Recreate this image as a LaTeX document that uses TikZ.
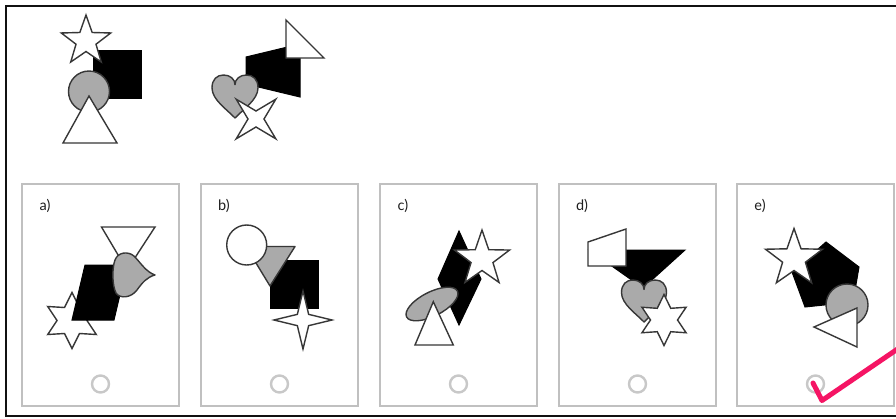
\documentclass[tikz,border=0pt]{standalone}
\usepackage{fontspec}
\setmainfont{Lato}
\definecolor{shapegray}{RGB}{170,170,170}
\definecolor{edgegray}{RGB}{55,55,55}
\definecolor{boxgray}{RGB}{192,192,192}
\definecolor{radiogray}{RGB}{200,200,200}
\definecolor{pinkc}{RGB}{245,20,100}
\definecolor{labelcol}{RGB}{30,30,30}
\newcommand\drawstar[7]{%
  \pgfmathtruncatemacro\starlast{2*#4-1}%
  \draw[#1,shift={(#2,#3)}] (#7:#5) \foreach \k in {1,...,\starlast} { -- ({#7+\k*180/#4}:{#6+(#5-#6)*(1-mod(\k,2))}) } -- cycle;}
\newcommand\drawheart[5]{%
  \draw[#1,shift={(#2,#3)},x=#4pt,y=-#5pt] (0,1) .. controls (-0.35,0.6) and (-1,0.15) .. (-1,-0.4) .. controls (-1,-0.8) and (-0.78,-1) .. (-0.5,-1) .. controls (-0.2,-1) and (0,-0.8) .. (0,-0.55) .. controls (0,-0.8) and (0.2,-1) .. (0.5,-1) .. controls (0.78,-1) and (1,-0.8) .. (1,-0.4) .. controls (1,0.15) and (0.35,0.6) .. (0,1) -- cycle;}
\begin{document}
\begin{tikzpicture}[x=1pt,y=-1pt,
  blk/.style={fill=black,draw=black,line width=1pt,line join=miter},
  gry/.style={fill=shapegray,draw=edgegray,line width=1.4pt,line join=round},
  wht/.style={fill=white,draw=edgegray,line width=1.4pt,line join=miter},
  ansbox/.style={draw=boxgray,line width=1.2pt},
  radio/.style={draw=radiogray,line width=2.4pt},
  lbl/.style={font=\fontsize{14.5}{16}\selectfont,text=labelcol,inner sep=0pt}]
\useasboundingbox (0,0) rectangle (896,418);
\clip (0,0) rectangle (896,418);
\fill[white] (0,0) rectangle (896,418);
% outer frame
\draw[line width=2pt,draw={rgb,255:red,17;green,17;blue,17}] (910,6) -- (6,6) -- (6,415.5) -- (910,415.5);

% ---------- top figure 1 ----------
\draw[blk] (93,50) rectangle (141,98);
\drawstar{wht}{86}{41}{5}{26}{10.5}{-90}
\draw[gry] (89,91.5) circle[radius=20.5pt];
\draw[wht] (89,96) -- (117,143) -- (63,143) -- cycle;

% ---------- top figure 2 ----------
\draw[blk] (246,57) -- (300,44) -- (300,97) -- (246,84) -- cycle;
\draw[wht] (286,20) -- (324,58) -- (286,58) -- cycle;
\drawheart{gry}{235}{96.5}{23}{21.5}
\drawstar{wht}{256}{119}{4}{28}{8}{45}

% ---------- answer boxes ----------
\foreach \bx/\nm/\t in {22/a/a), 201/b/b), 380/c/c), 559/d/d), 737/e/e)}{
  \draw[ansbox] (\bx,184) rectangle ++(157,222);
  \node[lbl] (lab\nm) at ({\bx+23},206) {\t};
  \draw[radio] ({\bx+78.5},384) circle[radius=8.5pt];
}

% ---------- option a ----------
\drawstar{wht}{72}{320.5}{6}{28}{15}{-90}
\draw[blk] (72,320) -- (114,320) -- (127,265) -- (85,265) -- cycle;
\draw[wht] (101.5,227) -- (155,227) -- (127,270) -- cycle;
\draw[gry] (155,275) .. controls (146,272) and (140,262) .. (134,256) .. controls (128,251) and (118,252) .. (115,260) .. controls (112,268) and (112,285) .. (116,293) .. controls (120,299) and (131,298) .. (137,290) .. controls (142,283) and (147,277) .. (155,275) -- cycle;

% ---------- option b ----------
\draw[blk] (270,260) rectangle (318,308);
\draw[gry] (246,246.5) -- (295,246.5) -- (270,286) -- cycle;
\draw[wht] (246.7,245) circle[radius=20pt];
\drawstar{wht}{303}{320}{4}{29}{8}{-90}

% ---------- option c ----------
\draw[blk] (459,231) -- (481,279) -- (459,325) -- (438,279) -- cycle;
\drawstar{wht}{482}{259}{5}{29}{11.5}{-90}
\draw[gry,rotate around={27:(432,304)}] (432,304) ellipse[x radius=28.5pt,y radius=12pt];
\draw[wht] (433.3,301.7) -- (453.3,345) -- (415,345) -- cycle;

% ---------- option d ----------
\draw[blk] (589,250) -- (685,250) -- (643,288) -- cycle;
\draw[wht] (588,242) -- (626,229) -- (626,266) -- (588,266) -- cycle;
\drawheart{gry}{644}{301}{22.5}{21}
\drawstar{wht}{664}{320}{6}{25.5}{13.5}{-90}

% ---------- option e ----------
\draw[blk] (826,242) -- (859,267) -- (853,302) -- (805,307) -- (792,272) -- cycle;
\drawstar{wht}{794}{258.5}{5}{30}{12}{-90}
\draw[gry] (847,305) circle[radius=21pt];
\draw[wht] (814,327) -- (857,308) -- (857,347) -- cycle;

% ---------- check mark ----------
\coordinate (ck1) at (813,383);
\coordinate (ck2) at (822,400.5);
\coordinate (ck3) at (902,346);
\draw[pinkc,line width=5pt,line cap=round,line join=round] (ck1) -- (ck2) -- (ck3);
\end{tikzpicture}
\end{document}
